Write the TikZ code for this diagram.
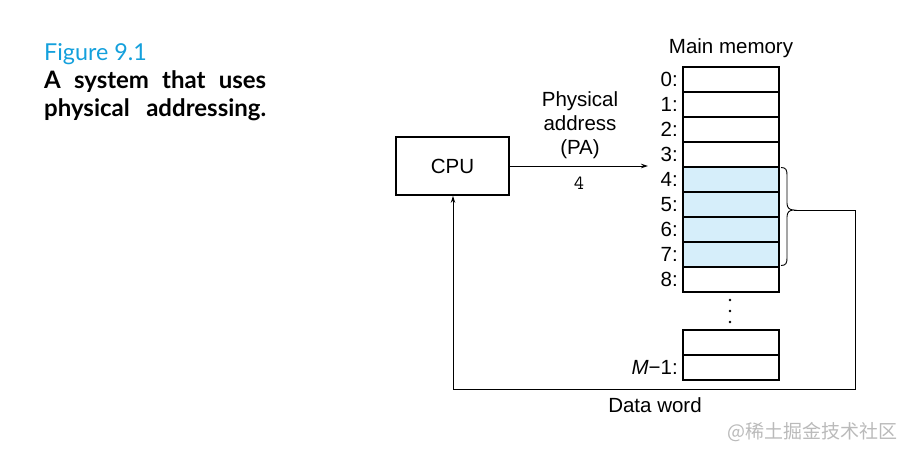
\documentclass[tikz,border=0pt]{standalone}
\usepackage{fontspec}
\setmainfont{Liberation Sans}
\newfontfamily\capfont{Lato}
\newfontfamily\cjk{Noto Sans CJK SC}
\usetikzlibrary{arrows.meta,calc}
\definecolor{figblue}{RGB}{20,160,220}
\definecolor{cellblue}{RGB}{214,238,250}
\begin{document}
\begin{tikzpicture}[x=1pt,y=-1pt,
  txt/.style={font=\fontsize{20.5}{24}\selectfont, inner sep=0pt},
  cell/.style={draw, line width=1.8pt, minimum width=96pt, minimum height=25pt, inner sep=0pt, outer sep=0pt},
  hcell/.style={cell, fill=cellblue},
  addr/.style={txt, anchor=east},
  conn/.style={line width=0.9pt, -{Stealth[length=7pt,width=4.5pt]}},
  wire/.style={line width=0.9pt},
  capb/.style={anchor=base west, inner sep=0pt, font=\capfont\bfseries\fontsize{24}{26}\selectfont},
  dot/.style={circle, fill=black, inner sep=0pt, minimum size=2.6pt}]
\useasboundingbox (0,0) rectangle (924,458);

% caption
\node[anchor=base west, inner sep=0pt, font=\capfont\fontsize{23.3}{26}\selectfont, text=figblue] (figno) at (44,60) {Figure 9.1};
\node[capb] (cap1) at (44,88) {\makebox[222pt][s]{A system that uses}};
\node[capb] (cap2) at (44,116) {\makebox[222pt][s]{physical addressing.}};

% CPU
\node[draw, line width=1.8pt, minimum width=113pt, minimum height=58pt, inner sep=0pt, txt] (cpu) at (452.5,166) {CPU};

% memory
\node[txt] (mm) at (731,48) {Main memory};
\foreach \i in {0,1,2,3,8} {
  \node[cell] (m\i) at (731,{79.5+25*\i}) {};
  \node[addr] (l\i) at (678,{79.5+25*\i}) {\i:};
}
\foreach \i in {4,5,6,7} {
  \node[hcell] (m\i) at (731,{79.5+25*\i}) {};
  \node[addr] (l\i) at (678,{79.5+25*\i}) {\i:};
}
\node[dot] (d1) at (730,300) {};
\node[dot] (d2) at (730,311) {};
\node[dot] (d3) at (730,322) {};
\node[cell] (mx) at (731,342.5) {};
\node[cell] (mlast) at (731,367.5) {};
\node[addr] (llast) at (678,367.5) {\textit{M}−1:};

% address arrow
\coordinate (pa) at (648,166);
\draw[conn] (cpu.east) -- (pa);
\node[txt, align=center, anchor=center] (palbl) at (580,125) {Physical\\address\\(PA)};
\node[inner sep=0pt, font=\ttfamily\fontsize{20}{20}\selectfont] (four) at (579,183) {4};

% brace
\coordinate (bt) at (794,210);
\draw[wire] (781,167.5) .. controls (786,167.5) and (787,170) .. (787,175)
  -- (787,203) .. controls (787,207.5) and (789,210) .. (bt)
  .. controls (789,210) and (787,212.5) .. (787,217)
  -- (787,258) .. controls (787,263) and (786,265.5) .. (781,265.5);

% data word return path
\coordinate (c1) at (855,389);
\coordinate (c2) at (453,389);
\draw[conn] (bt) -| (c1) -- (c2) -- (c2 |- cpu.south);
\node[txt] (dw) at (655,405) {Data word};

% watermark
\node[anchor=west, inner sep=0pt, font=\cjk\fontsize{19}{20}\selectfont, text=black!27] (wm) at (727,432) {@稀土掘金技术社区};
\end{tikzpicture}
\end{document}
